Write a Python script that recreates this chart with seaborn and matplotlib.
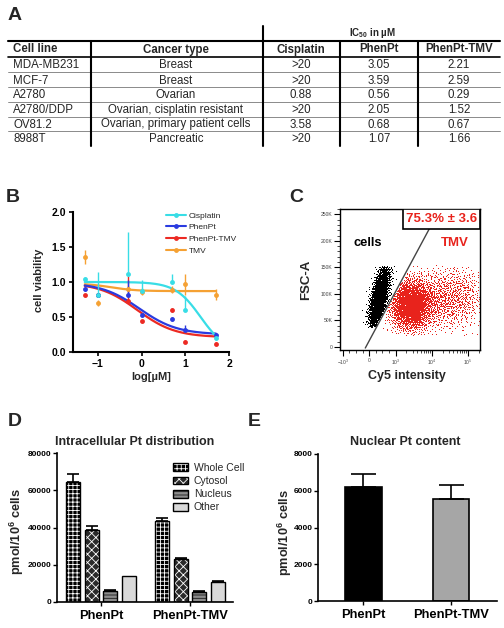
import numpy as np
import pandas as pd
import matplotlib
matplotlib.use("Agg")
import matplotlib.pyplot as plt
import seaborn as sns
from matplotlib.lines import Line2D
from matplotlib.patches import Patch, Rectangle
from matplotlib.scale import SymmetricalLogTransform

# ---------------- Panel A: IC50 table ----------------
table_cols = ["Cell line", "Cancer type", "Cisplatin", "PhenPt", "PhenPt-TMV"]
cell_lines = ["MDA-MB231", "MCF-7", "A2780", "A2780/DDP", "OV81.2", "8988T"]
cancer_types = ["Breast", "Breast", "Ovarian", "Ovarian, cisplatin resistant",
                "Ovarian, primary patient cells", "Pancreatic"]
ic50_cisplatin = [">20", ">20", "0.88", ">20", "3.58", ">20"]
ic50_phenpt = ["3.05", "3.59", "0.56", "2.05", "0.68", "1.07"]
ic50_phenpt_tmv = ["2.21", "2.59", "0.29", "1.52", "0.67", "1.66"]

# ---------------- Panel B: dose response ----------------
b_series = ["Cisplatin", "PhenPt", "PhenPt-TMV", "TMV"]
b_colors = ["#38dde6", "#2a3be0", "#ec2a23", "#f5a133"]
b_logconc = [-1.3, -1.0, -0.3, 0.0, 0.7, 1.0, 1.7]
via_cisplatin = [1.04, 0.82, 1.12, 0.87, 1.00, 0.60, 0.20]
errhi_cisplatin = [0.03, 0.33, 0.60, 0.16, 0.12, 0.20, 0.03]
errlo_cisplatin = [0.03, 0.00, 0.00, 0.03, 0.00, 0.00, 0.03]
via_phenpt = [0.90, 0.82, 0.82, 0.53, 0.47, 0.31, 0.25]
errhi_phenpt = [0.03, 0.03, 0.21, 0.03, 0.03, 0.08, 0.02]
errlo_phenpt = [0.03, 0.03, 0.00, 0.03, 0.03, 0.00, 0.02]
via_phenpt_tmv = [0.81, 0.82, 0.73, 0.44, 0.60, 0.15, 0.12]
errhi_phenpt_tmv = [0.02, 0.03, 0.35, 0.02, 0.03, 0.02, 0.02]
errlo_phenpt_tmv = [0.02, 0.03, 0.00, 0.02, 0.03, 0.02, 0.02]
via_tmv = [1.36, 0.70, 0.90, 0.86, 0.89, 0.97, 0.82]
errhi_tmv = [0.10, 0.04, 0.04, 0.05, 0.05, 0.15, 0.08]
errlo_tmv = [0.10, 0.04, 0.04, 0.05, 0.05, 0.15, 0.08]
# fitted 4-parameter dose-response curves (top, bottom, logIC50, hill slope)
fit_top = [1.00, 0.99, 0.99, 0.98]
fit_bottom = [0.00, 0.25, 0.21, 0.87]
fit_logic50 = [1.35, -0.05, -0.10, -0.70]
fit_hill = [1.5, 1.0, 1.0, 1.5]

# ---------------- Panel C: flow cytometry ----------------
gate_x = [-150, 8500]
gate_y = [-2000, 222000]
gate_pct = "75.3% ± 3.6"
pop_name = ["cells", "TMV", "TMV", "TMV"]
pop_d = [0.27, 1.15, 2.00, 2.60]          # Cy5 position (display decades)
pop_y = [92000, 78000, 90000, 95000]      # FSC-A centre
pop_sd_d = [0.11, 0.30, 0.50, 0.30]
pop_sd_y = [30000, 24000, 30000, 30000]
pop_tilt = [0.30e-5, 0.0, 0.0, 0.0]
pop_n = [2600, 2600, 900, 260]
c_yticks = [0, 50000, 100000, 150000, 200000, 250000]
c_yticklabels = ["0", "50K", "100K", "150K", "200K", "250K"]
c_xticks = [-1000, 0, 1000, 10000, 100000]
c_xticklabels = [r"$-10^3$", "0", r"$10^3$", r"$10^4$", r"$10^5$"]

# ---------------- Panel D: intracellular Pt ----------------
d_groups = ["PhenPt", "PhenPt-TMV"]
d_fractions = ["Whole Cell", "Cytosol", "Nucleus", "Other"]
pt_phenpt = [64200, 38600, 5900, 14000]
pt_phenpt_err = [4500, 2300, 500, 0]
pt_phenpt_tmv = [43700, 23000, 5400, 11000]
pt_phenpt_tmv_err = [1500, 700, 500, 500]

# ---------------- Panel E: nuclear Pt ----------------
e_groups = ["PhenPt", "PhenPt-TMV"]
nuclear_pt = [6220, 5530]
nuclear_pt_err = [670, 760]

# ======================================================
sns.set_theme(style="ticks")
plt.rcParams["font.family"] = ["Liberation Sans", "DejaVu Sans"]
plt.rcParams["mathtext.fontset"] = "custom"
plt.rcParams["mathtext.rm"] = "Liberation Sans"
plt.rcParams["mathtext.bf"] = "Liberation Sans:bold"
plt.rcParams["mathtext.default"] = "regular"
plt.rcParams["hatch.linewidth"] = 0.6
plt.rcParams["axes.edgecolor"] = "black"
plt.rcParams["xtick.color"] = "black"
plt.rcParams["ytick.color"] = "black"

W, H = 504, 628
fig = plt.figure(figsize=(W / 100, H / 100), dpi=100)


def rect(l, t, r, b):
    return [l / W, 1 - b / H, (r - l) / W, (b - t) / H]


bg = fig.add_axes([0, 0, 1, 1])
bg.set_xlim(0, W)
bg.set_ylim(H, 0)
bg.axis("off")

# panel letters
for lab, (px, py) in zip("ABCDE", [(15, 16), (13, 197), (296, 197), (15, 422), (254, 422)]):
    bg.text(px, py, lab, fontsize=14, fontweight="bold", ha="center", va="center")

# ---------------- Table ----------------
tfs = 8.3
bg.plot([8, 500], [40.5, 40.5], color="black", lw=1.5)
bg.plot([8, 500], [56.5, 56.5], color="black", lw=1.2)
for yy in [72, 86.5, 101.5, 116.5, 131]:
    bg.plot([8, 500], [yy, yy], color="#777777", lw=0.6)
bg.plot([91, 91], [40.5, 146], color="black", lw=1.5)
bg.plot([263, 263], [26, 146], color="black", lw=1.5)
bg.plot([340, 340], [40.5, 146], color="black", lw=1.5)
bg.plot([418, 418], [40.5, 146], color="black", lw=1.5)
bg.text(372, 33, "IC$_{50}$ in µM", ha="center", va="center", fontsize=7, fontweight="bold")
col_pos = [13, 176, 301, 379, 459]
bg.text(col_pos[0], 49.5, table_cols[0], ha="left", va="center", fontsize=tfs, fontweight="bold")
for cx, name in zip(col_pos[1:], table_cols[1:]):
    bg.text(cx, 49.5, name, ha="center", va="center", fontsize=tfs, fontweight="bold")
row_y = [65.5, 80.5, 95, 110, 124.5, 139]
for i, ry in enumerate(row_y):
    bg.text(col_pos[0], ry, cell_lines[i], ha="left", va="center", fontsize=tfs)
    for cx, col in zip(col_pos[1:], [cancer_types, ic50_cisplatin, ic50_phenpt, ic50_phenpt_tmv]):
        bg.text(cx, ry, col[i], ha="center", va="center", fontsize=tfs)

# ---------------- Panel B ----------------
axB = fig.add_axes(rect(73, 212, 229, 352))
xs = np.linspace(b_logconc[0], b_logconc[-1], 200)
curves = []
for name, top, bot, lic, h in zip(b_series, fit_top, fit_bottom, fit_logic50, fit_hill):
    yy = bot + (top - bot) / (1 + 10 ** ((xs - lic) * h))
    curves.append(pd.DataFrame({"logc": xs, "viability": yy, "series": name}))
curves = pd.concat(curves)
sns.lineplot(data=curves, x="logc", y="viability", hue="series", hue_order=b_series[::-1],
             palette=dict(zip(b_series, b_colors)), ax=axB, legend=False, linewidth=1.6)
pts = [(via_tmv, [errlo_tmv, errhi_tmv], b_colors[3]),
       (via_phenpt_tmv, [errlo_phenpt_tmv, errhi_phenpt_tmv], b_colors[2]),
       (via_phenpt, [errlo_phenpt, errhi_phenpt], b_colors[1]),
       (via_cisplatin, [errlo_cisplatin, errhi_cisplatin], b_colors[0])]
for vals, errs, c in pts:
    axB.errorbar(b_logconc, vals, yerr=errs, fmt="o", color=c, ms=3.5, capsize=2.5,
                 elinewidth=1.0, capthick=1.0, mew=0)
axB.set_xlim(-1.57, 2.0)
axB.set_ylim(0, 2.0)
axB.set_xticks([-1, 0, 1, 2])
axB.set_yticks([0, 0.5, 1.0, 1.5, 2.0])
axB.set_yticklabels(["0.0", "0.5", "1.0", "1.5", "2.0"])
axB.tick_params(length=3, width=1.2, labelsize=7.5, pad=2)
for t in axB.get_xticklabels() + axB.get_yticklabels():
    t.set_fontweight("bold")
for s in ["top", "right"]:
    axB.spines[s].set_visible(False)
for s in ["left", "bottom"]:
    axB.spines[s].set_linewidth(1.5)
axB.set_xlabel("log[µM]", fontsize=8, fontweight="bold", va="center")
axB.xaxis.set_label_coords(0.5, -0.18)
axB.set_ylabel("cell viability", fontsize=8, fontweight="bold", va="center")
axB.yaxis.set_label_coords(-0.218, 0.514)
hB = [Line2D([0], [0], color=c, marker="o", ms=3.5, lw=1.5, mew=0) for c in b_colors]
axB.legend(hB, b_series, loc="upper left", bbox_to_anchor=(166 / W, 1 - 212 / H),
           bbox_transform=fig.transFigure, frameon=False, fontsize=6, handlelength=2.4,
           handletextpad=0.3, labelspacing=0.45, borderpad=0, borderaxespad=0)

# ---------------- Panel C ----------------
axC = fig.add_axes(rect(340, 209, 480, 350))
LINTHRESH, LINSCALE = 1000, 0.66
axC.set_xscale("symlog", base=10, linthresh=LINTHRESH, linscale=LINSCALE)
tr = SymmetricalLogTransform(10, LINTHRESH, LINSCALE)
inv = tr.inverted()


def halton(n, base, skip):
    out = np.empty(n)
    for i in range(n):
        f, r, k = 1.0, 0.0, i + skip
        while k > 0:
            f /= base
            r += f * (k % base)
            k //= base
        out[i] = r
    return out


gd = tr.transform(np.array(gate_x, dtype=float)) / LINTHRESH
gslope = (gd[1] - gd[0]) / (gate_y[1] - gate_y[0])
events = []
for k, (nm, cd, cy, sdd, sdy, tilt, n) in enumerate(
        zip(pop_name, pop_d, pop_y, pop_sd_d, pop_sd_y, pop_tilt, pop_n)):
    u1 = halton(n, 2, 50 + 7000 * k)
    u2 = halton(n, 3, 50 + 7000 * k)
    rad = np.sqrt(-2 * np.log(u1))
    z1 = rad * np.cos(2 * np.pi * u2)
    z2 = rad * np.sin(2 * np.pi * u2)
    yv = cy + sdy * z2
    dv = cd + sdd * z1 + tilt * (yv - cy)
    dline = gd[0] + (yv - gate_y[0]) * gslope
    if nm == "cells":
        keep = (yv > 36000) & (yv < 151000) & (dv < dline - 0.03) & (dv > -0.2)
    else:
        keep = (yv > 20000) & (yv < 152000) & (dv > dline + 0.03) & (dv < 3.05)
    xv = inv.transform(dv[keep] * LINTHRESH)
    events.append(pd.DataFrame({"Cy5": xv, "FSC": yv[keep], "pop": nm}))
events = pd.concat(events)
ev_cells = events[events["pop"] == "cells"]
ev_tmv = events[events["pop"] == "TMV"]
axC.plot(ev_cells["Cy5"], ev_cells["FSC"], ",", color="black")
axC.plot(ev_tmv["Cy5"], ev_tmv["FSC"], ",", color="#e8231c")
axC.plot(gate_x, gate_y, color="#444444", lw=1.0)
axC.set_xlim(-1200, 2.2e5)
axC.set_ylim(-5700, 260000)
axC.set_yticks(c_yticks)
axC.set_yticklabels(c_yticklabels)
axC.set_xticks(c_xticks)
axC.set_xticklabels(c_xticklabels)
minor_x = [-750, -500, -250, 250, 500, 750] + [m * 10 ** e for e in (3, 4) for m in range(2, 10)] + [2e5]
axC.set_xticks(minor_x, minor=True)
axC.set_yticks(np.arange(0, 260001, 10000), minor=True)
axC.tick_params(which="major", length=4, width=0.8, labelsize=3.6, labelcolor="#444444", pad=1.5)
axC.tick_params(which="minor", length=2, width=0.5)
for s in axC.spines.values():
    s.set_linewidth(1.0)
axC.add_patch(Rectangle((0.45, 0.858), 0.55, 0.142, transform=axC.transAxes, facecolor="white",
                        edgecolor="black", lw=1.2, zorder=5))
axC.text(0.725, 0.929, gate_pct, transform=axC.transAxes, ha="center", va="center",
         color="#e8231c", fontsize=9.5, fontweight="bold", zorder=6)
axC.text(0.2, 0.759, "cells", transform=axC.transAxes, ha="center", va="center",
         fontsize=9.3, fontweight="bold", color="black")
axC.text(0.82, 0.759, "TMV", transform=axC.transAxes, ha="center", va="center",
         fontsize=9.5, fontweight="bold", color="#e8231c")
axC.set_xlabel("Cy5 intensity", fontsize=9, fontweight="bold", va="center")
axC.xaxis.set_label_coords(0.479, -0.184)
axC.set_ylabel("FSC-A", fontsize=9.5, fontweight="bold", va="center")
axC.yaxis.set_label_coords(-0.243, 0.496)

# ---------------- Panel D ----------------
axD = fig.add_axes(rect(57, 453, 233, 602))
dfD = pd.DataFrame({"group": np.repeat(d_groups, len(d_fractions)),
                    "fraction": d_fractions * len(d_groups),
                    "value": pt_phenpt + pt_phenpt_tmv,
                    "err": pt_phenpt_err + pt_phenpt_tmv_err})
sns.barplot(data=dfD, x="group", y="value", hue="fraction", order=d_groups, hue_order=d_fractions,
            width=0.85, gap=0.26, errorbar=None, ax=axD, legend=False,
            palette=["black", "#303030", "#8c8c8c", "#d9d9d9"])
d_style = [("black", "white", "++++"), ("#2a2a2a", "white", "xxxx"),
           ("#8c8c8c", "#1a1a1a", "-----"), ("#d9d9d9", "#d9d9d9", "")]
bar_containers = list(axD.containers)
for i, cont in enumerate(bar_containers):
    fc, hc, hatch = d_style[i]
    for bar in cont:
        bar.set_facecolor(fc)
        bar.set_edgecolor(hc)
        bar.set_hatch(hatch)
        bar.set_linewidth(0)
        x0, w, h = bar.get_x(), bar.get_width(), bar.get_height()
        axD.add_patch(Rectangle((x0, 0), w, h, fill=False, edgecolor="black", lw=1.0, zorder=3))
        gi = int(round(x0 + w / 2))
        row = dfD[(dfD["group"] == d_groups[gi]) & (dfD["fraction"] == d_fractions[i])].iloc[0]
        if row["err"] > 0:
            axD.errorbar([x0 + w / 2], [row["value"]], yerr=[[0], [row["err"]]], fmt="none",
                         ecolor="black", elinewidth=1.2, capsize=4.5, capthick=1.2, zorder=2)
axD.set_xlim(-0.494, 1.483)
axD.set_ylim(0, 80000)
axD.set_yticks([0, 20000, 40000, 60000, 80000])
axD.set_yticklabels(["0", "20000", "40000", "60000", "80000"])
axD.tick_params(axis="y", length=3, width=1.0, labelsize=6, pad=1)
axD.tick_params(axis="x", length=3, width=1.0, labelsize=9.3, pad=3)
for t in axD.get_xticklabels() + axD.get_yticklabels():
    t.set_fontweight("bold")
for s in ["top", "right"]:
    axD.spines[s].set_visible(False)
for s in ["left", "bottom"]:
    axD.spines[s].set_linewidth(1.2)
axD.set_xlabel("")
axD.set_ylabel("pmol/10$^6$ cells", fontsize=9.2, fontweight="bold", va="center")
axD.yaxis.set_label_coords(-0.228, 0.47)
bg.text(135, 442, "Intracellular Pt distribution", ha="center", va="center", fontsize=9,
        fontweight="bold")
hD = [(Patch(facecolor=fc, edgecolor=hc, hatch=hatch, lw=0), Patch(fill=False, edgecolor="black", lw=1.0))
      for fc, hc, hatch in d_style]
axD.legend(hD, d_fractions, loc="upper left", bbox_to_anchor=(173 / W, 1 - 463 / H),
           bbox_transform=fig.transFigure, frameon=False, fontsize=7.5, handlelength=1.45,
           handleheight=0.8, handletextpad=0.55, labelspacing=0.3, borderpad=0, borderaxespad=0)

# ---------------- Panel E ----------------
axE = fig.add_axes(rect(318, 454, 497, 601))
dfE = pd.DataFrame({"group": e_groups, "value": nuclear_pt, "err": nuclear_pt_err})
sns.barplot(data=dfE, x="group", y="value", hue="group", order=e_groups, hue_order=e_groups,
            palette=["black", "#a6a6a6"], width=0.42, errorbar=None, legend=False,
            edgecolor="black", linewidth=1.2, ax=axE)
for bar in list(axE.patches):
    xc = bar.get_x() + bar.get_width() / 2
    gi = int(round(xc))
    axE.errorbar([xc], [dfE["value"][gi]], yerr=[[0], [dfE["err"][gi]]], fmt="none",
                 ecolor="black", elinewidth=1.2, capsize=9, capthick=1.2, zorder=1)
axE.set_xlim(-0.52, 1.526)
axE.set_ylim(0, 8000)
axE.set_yticks([0, 2000, 4000, 6000, 8000])
axE.tick_params(axis="y", length=3, width=1.0, labelsize=6, pad=1)
axE.tick_params(axis="x", length=3, width=1.0, labelsize=9.3, pad=3)
for t in axE.get_xticklabels() + axE.get_yticklabels():
    t.set_fontweight("bold")
for s in ["top", "right"]:
    axE.spines[s].set_visible(False)
for s in ["left", "bottom"]:
    axE.spines[s].set_linewidth(1.2)
axE.set_xlabel("")
axE.set_ylabel("pmol/10$^6$ cells", fontsize=9.2, fontweight="bold", va="center")
axE.yaxis.set_label_coords(-0.185, 0.469)
bg.text(405, 442, "Nuclear Pt content", ha="center", va="center", fontsize=9, fontweight="bold")

fig.savefig("out.png", dpi=100)
